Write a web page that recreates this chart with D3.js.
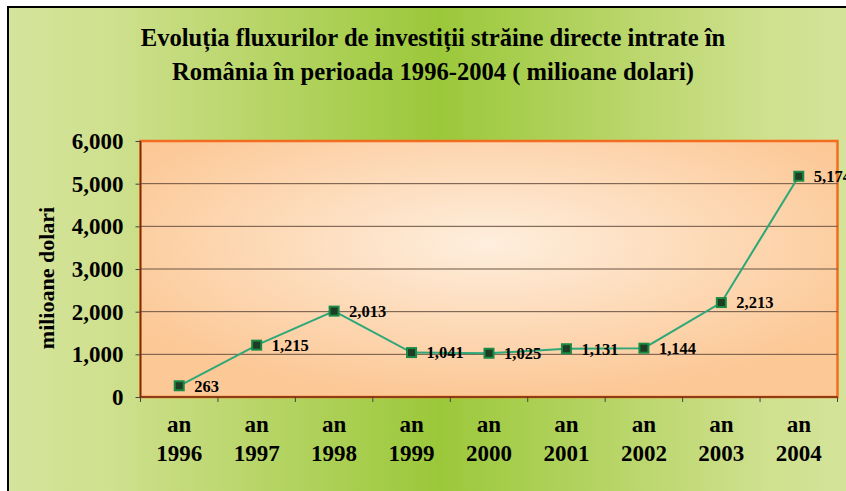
<!DOCTYPE html>
<html>
<head>
<meta charset="utf-8">
<script src="https://cdn.jsdelivr.net/npm/d3@7"></script>
<style>
  body { margin: 0; background: #fff; }
  text { font-family: "Liberation Serif", "Times New Roman", serif; font-weight: bold; fill: #000; }
</style>
</head>
<body>
<div id="chart"></div>
<script>
// datele graficului
var years = ["1996", "1997", "1998", "1999", "2000", "2001", "2002", "2003", "2004"];
var values = [263, 1215, 2013, 1041, 1025, 1131, 1144, 2213, 5174];
var yTicks = [0, 1000, 2000, 3000, 4000, 5000, 6000];
var titleLines = ["Evoluția fluxurilor de investiții străine directe intrate în",
                  "România în perioada 1996-2004 ( milioane dolari)"];
var yTitle = "milioane dolari";

var width = 846,
    height = 491,
    plot = { left: 140.5, right: 837.5, top: 141, bottom: 397 };

var svg = d3.select("#chart")
    .append("svg")
    .attr("width", width)
    .attr("height", height);

var defs = svg.append("defs");

// fundal verde
var bg = defs.append("linearGradient").attr("id", "bg")
    .attr("x1", "0%").attr("x2", "100%").attr("y1", "0%").attr("y2", "0%");
bg.append("stop").attr("offset", "0%").attr("stop-color", "#d5e49c");
bg.append("stop").attr("offset", "12%").attr("stop-color", "#cfe08e");
bg.append("stop").attr("offset", "50%").attr("stop-color", "#9bc83a");
bg.append("stop").attr("offset", "88%").attr("stop-color", "#cfe08e");
bg.append("stop").attr("offset", "100%").attr("stop-color", "#d5e49c");

// zona graficului - portocaliu radial
var pg = defs.append("radialGradient").attr("id", "pg")
    .attr("cx", "50%").attr("cy", "40%").attr("r", "60%");
pg.append("stop").attr("offset", "0%").attr("stop-color", "#feeedd");
pg.append("stop").attr("offset", "100%").attr("stop-color", "#fcc896");

svg.append("rect")
    .attr("x", 8).attr("y", 7)
    .attr("width", 860).attr("height", 500)
    .attr("fill", "url(#bg)")
    .attr("stroke", "#000")
    .attr("stroke-width", 2);

// titlu
svg.append("g").selectAll("text")
    .data(titleLines)
    .enter().append("text")
    .attr("x", 433)
    .attr("y", function(d, i) { return 46 + i * 34; })
    .attr("text-anchor", "middle")
    .attr("font-size", "24.6px")
    .text(function(d) { return d; });

var xScale = d3.scaleBand()
    .domain(years)
    .range([plot.left, plot.right]);

var yScale = d3.scaleLinear()
    .domain([0, 6000])
    .range([plot.bottom, plot.top]);

svg.append("rect")
    .attr("x", plot.left).attr("y", plot.top)
    .attr("width", plot.right - plot.left)
    .attr("height", plot.bottom - plot.top)
    .attr("fill", "url(#pg)")
    .attr("stroke", "#f26d1f")
    .attr("stroke-width", 2.5);

// linii de grila
svg.append("g").selectAll("line")
    .data(yTicks.filter(function(d) { return d > 0 && d < 6000; }))
    .enter().append("line")
    .attr("x1", plot.left).attr("x2", plot.right)
    .attr("y1", function(d) { return yScale(d); })
    .attr("y2", function(d) { return yScale(d); })
    .attr("stroke", "#6b5444")
    .attr("stroke-width", 1);

// axa y
var yAxis = d3.axisLeft(yScale)
    .tickValues(yTicks)
    .tickFormat(d3.format(","))
    .tickSize(5)
    .tickPadding(12);
var gy = svg.append("g")
    .attr("transform", "translate(" + plot.left + ",0)")
    .call(yAxis);
gy.select(".domain").remove();
gy.selectAll("line").attr("stroke", "#444");
gy.selectAll("text")
    .attr("font-family", "Liberation Serif")
    .attr("font-size", "23px")
    .attr("font-weight", "bold")
    .attr("fill", "#000");

// axa x - taieturi intre categorii
var xTickPos = years.map(function(d) { return xScale(d); }).concat([plot.right]);
svg.append("g").selectAll("line")
    .data(xTickPos)
    .enter().append("line")
    .attr("x1", function(d) { return d; }).attr("x2", function(d) { return d; })
    .attr("y1", plot.bottom).attr("y2", plot.bottom + 5)
    .attr("stroke", "#444");

svg.append("line")
    .attr("x1", plot.left).attr("x2", plot.left)
    .attr("y1", plot.top).attr("y2", plot.bottom)
    .attr("stroke", "#6e2e12").attr("stroke-width", 1.5);
svg.append("line")
    .attr("x1", plot.left).attr("x2", plot.right)
    .attr("y1", plot.bottom).attr("y2", plot.bottom)
    .attr("stroke", "#6e2e12").attr("stroke-width", 1.5);

var xl = svg.append("g").selectAll("text")
    .data(years)
    .enter().append("text")
    .attr("text-anchor", "middle")
    .attr("font-size", "23px");
xl.append("tspan")
    .attr("x", function(d) { return xScale(d) + xScale.bandwidth() / 2; })
    .attr("y", 432)
    .text("an");
xl.append("tspan")
    .attr("x", function(d) { return xScale(d) + xScale.bandwidth() / 2; })
    .attr("y", 461)
    .text(function(d) { return d; });

// titlu axa y
svg.append("text")
    .attr("transform", "translate(54,278) rotate(-90)")
    .attr("text-anchor", "middle")
    .attr("font-size", "22px")
    .text(yTitle);

// linia si punctele
var line = d3.line()
    .x(function(d, i) { return xScale(years[i]) + xScale.bandwidth() / 2; })
    .y(function(d) { return yScale(d); });

svg.append("path")
    .datum(values)
    .attr("d", line)
    .attr("fill", "none")
    .attr("stroke", "#2ea878")
    .attr("stroke-width", 2);

svg.append("g").selectAll("rect")
    .data(values)
    .enter().append("rect")
    .attr("x", function(d, i) { return xScale(years[i]) + xScale.bandwidth() / 2 - 4.5; })
    .attr("y", function(d) { return yScale(d) - 4.5; })
    .attr("width", 9).attr("height", 9)
    .attr("fill", "#1e3d24")
    .attr("stroke", "#1a8a45")
    .attr("stroke-width", 2);

// etichete valori
svg.append("g").selectAll("text")
    .data(values)
    .enter().append("text")
    .attr("x", function(d, i) { return xScale(years[i]) + xScale.bandwidth() / 2 + 15; })
    .attr("y", function(d) { return yScale(d); })
    .attr("dy", "0.35em")
    .attr("font-size", "16.5px")
    .text(function(d) { return d3.format(",")(d); });
</script>
</body>
</html>
